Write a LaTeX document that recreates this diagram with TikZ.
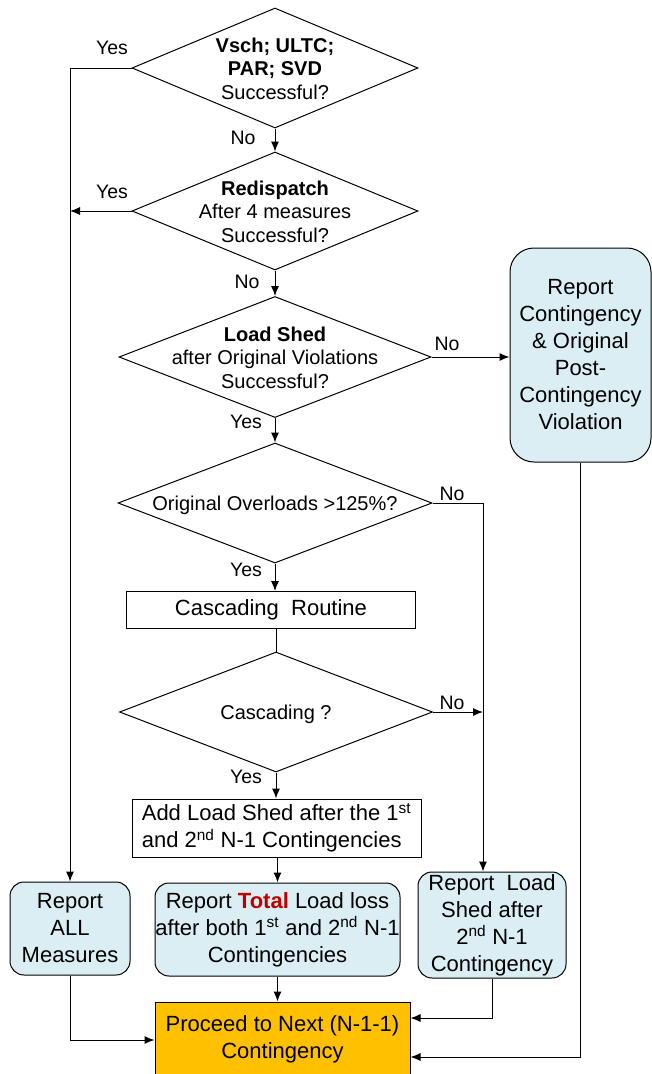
\documentclass[tikz,border=0pt]{standalone}
\usepackage{fontspec}
\setmainfont{Liberation Sans}
\usepackage{tikz}
\usetikzlibrary{shapes.geometric}
\usetikzlibrary{arrows.meta}

\definecolor{boxblue}{HTML}{DAEEF3}
\definecolor{nextorange}{HTML}{FFC000}
\definecolor{totalred}{HTML}{C00000}

% text of a decision, kept out of the diamond's size
\newcommand{\dtext}[1]{\smash{\makebox[0pt]{\raisebox{-0.4em}{\begin{tabular}{@{}c@{}}#1\end{tabular}}}}}

\tikzset{
  decision/.style = {diamond, draw, line width=1pt, inner sep=0pt,
                     font=\fontsize{20}{23.5}\selectfont},
  process/.style  = {rectangle, draw, line width=1pt, inner sep=0pt,
                     align=center, font=\fontsize{22}{27}\selectfont},
  report/.style   = {process, fill=boxblue, rounded corners=14pt},
  lbl/.style      = {inner sep=0pt, font=\fontsize{19.5}{22}\selectfont},
  arr/.style      = {line width=1pt, -{Latex[length=10pt,width=8pt]}},
  con/.style      = {line width=1pt}
}

\begin{document}
\begin{tikzpicture}[x=1pt, y=-1pt]
\useasboundingbox (0,0) rectangle (652,1074);

% decisions
\node[decision, minimum width=286pt, minimum height=120pt] (vsch) at (275,68)
  {\dtext{\textbf{Vsch; ULTC;}\\ \textbf{PAR; SVD}\\ Successful?}};
\node[decision, minimum width=286pt, minimum height=118pt] (redis) at (275,211)
  {\dtext{\textbf{Redispatch}\\ After 4 measures\\ Successful?}};
\node[decision, minimum width=312pt, minimum height=121pt] (shed) at (275,357)
  {\dtext{\textbf{Load Shed}\\ after Original Violations\\ Successful?}};
\node[decision, minimum width=314pt, minimum height=120pt] (over) at (275,503)
  {\dtext{Original Overloads >125\%?}};
\node[decision, minimum width=313pt, minimum height=120pt] (casc) at (276,712)
  {\dtext{Cascading ?}};

% processes
\node[process, minimum width=289pt, minimum height=37pt] (routine) at (271,610)
  {Cascading\ \ Routine};
\node[process, minimum width=289pt, minimum height=58pt, align=left] (addshed) at (276.5,828)
  {Add Load Shed after the 1\textsuperscript{st}\\ and 2\textsuperscript{nd} N-1 Contingencies};

% reports
\node[report, minimum width=141pt, minimum height=214pt, rounded corners=24pt] (report) at (580.5,355)
  {Report\\ Contingency\\ \& Original\\ Post-\\ Contingency\\ Violation};
\node[report, minimum width=120pt, minimum height=93pt] (allmeas) at (70,928.5)
  {Report\\ ALL\\ Measures};
\node[report, minimum width=245pt, minimum height=93pt] (total) at (277.5,929.5)
  {Report \textcolor{totalred}{\textbf{Total}} Load loss\\ after both 1\textsuperscript{st} and 2\textsuperscript{nd} N-1\\ Contingencies};
\node[report, minimum width=148pt, minimum height=106pt] (loadshed) at (492,925)
  {Report\ \ Load\\ Shed after\\ 2\textsuperscript{nd} N-1\\ Contingency};
\node[process, fill=nextorange, minimum width=255pt, minimum height=74pt] (next) at (282.5,1039)
  {Proceed to Next (N-1-1)\\ Contingency};

% labels
\node[lbl] (yes1) at (112,48) {Yes};
\node[lbl] (yes2) at (112,192) {Yes};
\node[lbl] (no1) at (243,138) {No};
\node[lbl] (no2) at (247,282) {No};
\node[lbl] (no3) at (447,344) {No};
\node[lbl] (yes3) at (246,422) {Yes};
\node[lbl] (no4) at (452,494) {No};
\node[lbl] (yes4) at (246,570) {Yes};
\node[lbl] (no5) at (452,703) {No};
\node[lbl] (yes5) at (246,777) {Yes};

% main column
\draw[arr] (vsch) -- (redis);
\draw[arr] (redis) -- (shed);
\draw[arr] (shed) -- (over);
\draw[arr] (over) -- (routine.north -| over.south);
\draw[con] (routine.south -| casc.north) -- (casc);
\draw[arr] (casc) -- (casc.south |- addshed.north);
\draw[arr] (addshed.south -| total.north) -- (total);
\draw[arr] (total) -- (total.south |- next.north);

% yes branches
\draw[arr] (vsch.west) -| (allmeas.north);
\draw[arr] (redis.west) -- (redis.west -| allmeas.north);

% no branches
\coordinate (drop) at (483,503);
\draw[arr] (shed.east) -- (shed.east -| report.west);
\draw[arr] (over.east) -- (drop) -- (drop |- loadshed.north);
\draw[arr] (casc.east) -- (casc.east -| drop);

% into next
\draw[arr] (allmeas.south) |- ([yshift=-1pt]next.west);
\draw[arr] (loadshed.south) |- ([yshift=21pt]next.east);
\draw[arr] (report.south) |- ([yshift=-18pt]next.east);

\end{tikzpicture}
\end{document}
